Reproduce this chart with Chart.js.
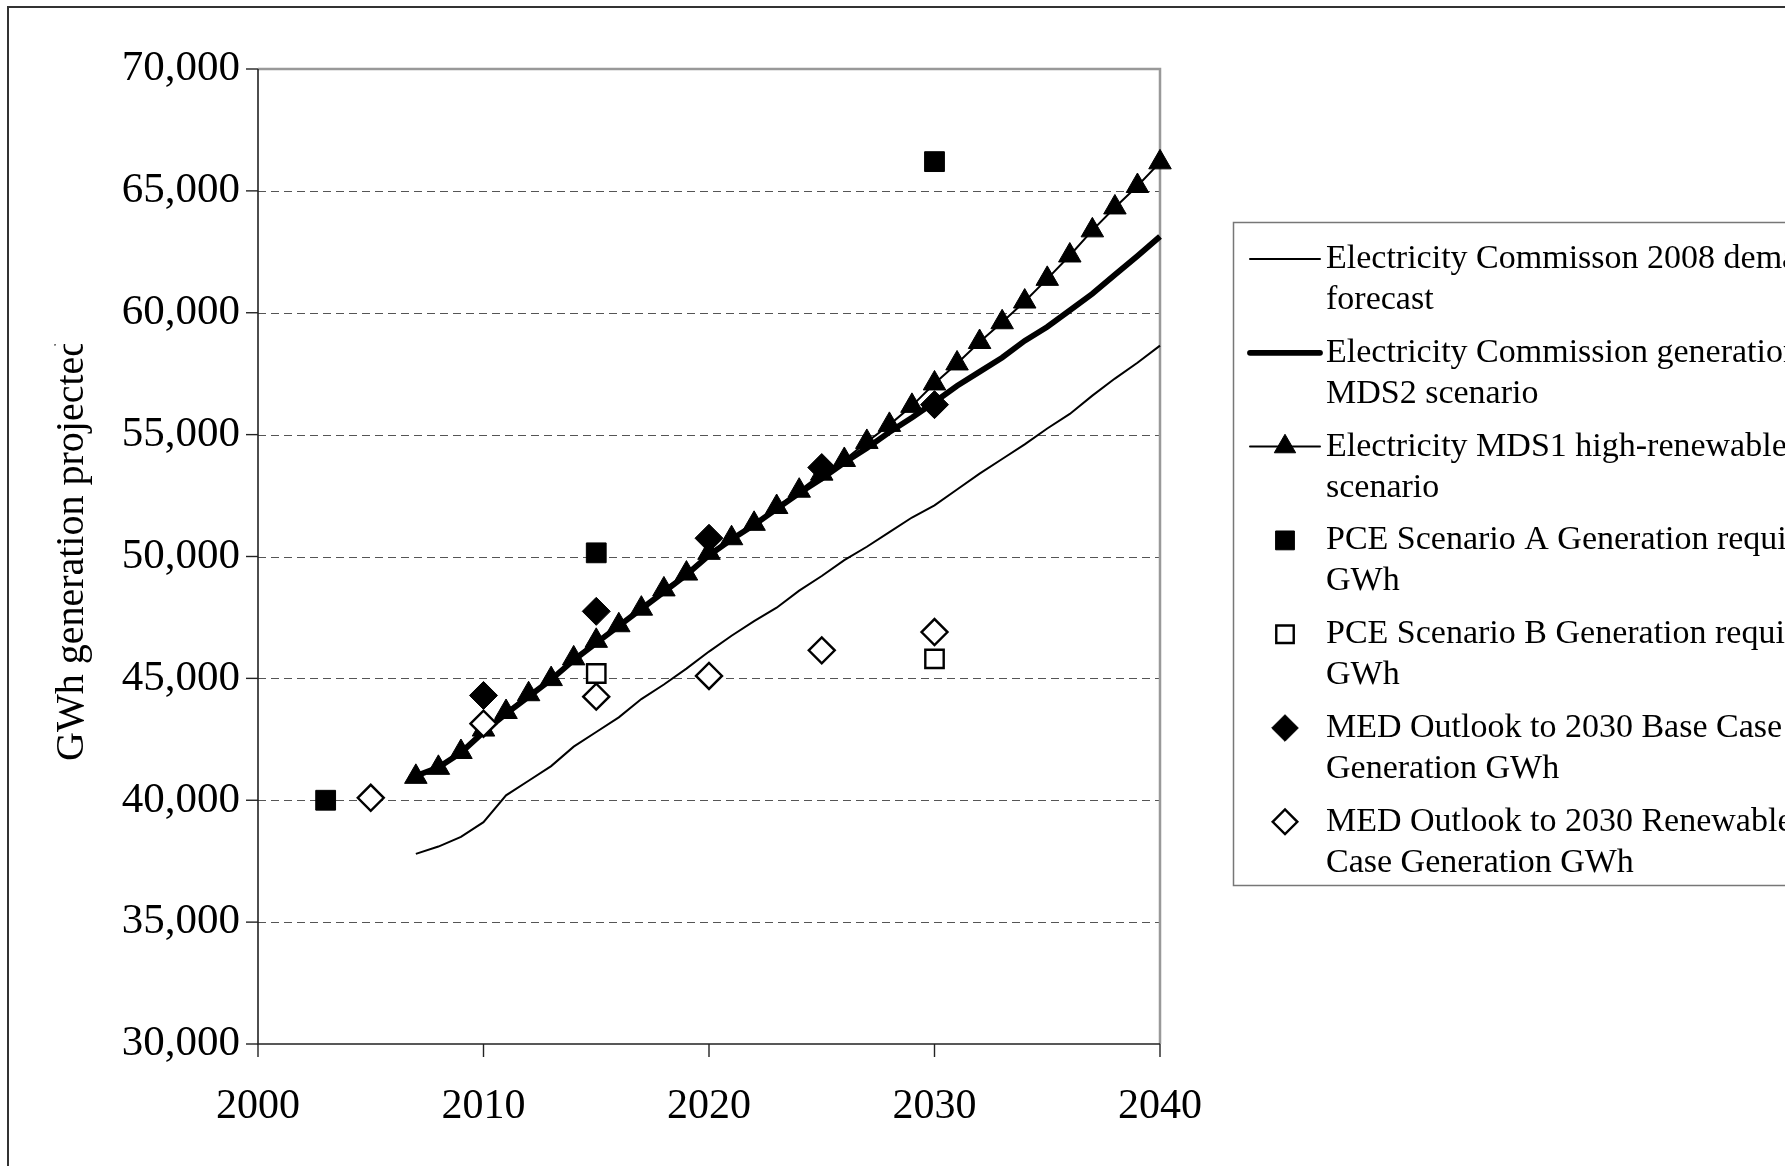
<!DOCTYPE html>
<html>
<head>
<meta charset="utf-8">
<script src="https://cdn.jsdelivr.net/npm/chart.js@4.4.1/dist/chart.umd.min.js"></script>
<style>
  html, body { margin: 0; padding: 0; background: #ffffff; }
  #wrap { width: 1785px; height: 1166px; position: relative; overflow: hidden; }
</style>
</head>
<body>
<div id="wrap"><canvas id="c" width="1785" height="1166"></canvas></div>
<script>
// ---- Projection years -------------------------------------------------------
const projectionYears = [2007, 2008, 2009, 2010, 2011, 2012, 2013, 2014, 2015, 2016,
  2017, 2018, 2019, 2020, 2021, 2022, 2023, 2024, 2025, 2026,
  2027, 2028, 2029, 2030, 2031, 2032, 2033, 2034, 2035, 2036,
  2037, 2038, 2039, 2040];

// Electricity Commisson 2008 demand forecast (GWh)
const demandForecast = [37800, 38100, 38500, 39100, 40200, 40800, 41400, 42200, 42800, 43400,
  44150, 44750, 45400, 46100, 46750, 47350, 47900, 48600, 49200, 49850,
  50400, 51000, 51600, 52100, 52750, 53400, 54000, 54600, 55250, 55850,
  56600, 57300, 57950, 58650];

// Electricity Commission generation, MDS2 scenario (GWh)
const mds2Generation = [41000, 41350, 41950, 42800, 43550, 44250, 44950, 45750, 46450, 47150,
  47850, 48550, 49250, 50050, 50700, 51300, 51950, 52600, 53200, 53850,
  54450, 55100, 55700, 56330, 57000, 57580, 58160, 58850, 59420, 60100,
  60780, 61560, 62330, 63130];

// Electricity MDS1 high-renewable scenario (GWh)
const mds1Generation = [40960, 41330, 41980, 42900, 43620, 44350, 44970, 45820, 46540, 47180,
  47860, 48650, 49300, 50150, 50750, 51340, 52030, 52700, 53400, 53960,
  54700, 55400, 56180, 57100, 57920, 58800, 59610, 60460, 61390, 62350,
  63380, 64320, 65200, 66170];

// PCE scenarios
const pceYears = [2003, 2015, 2030];
const pceScenarioA = [40000, 50150, 66200];
const pceBYears = [2015, 2030];
const pceScenarioB = [45200, 45800];

// MED Outlook to 2030
const medBaseYears = [2010, 2015, 2020, 2025, 2030];
const medBaseCase = [44300, 47750, 50750, 53650, 56230];
const medRenewYears = [2005, 2010, 2015, 2020, 2025, 2030];
const medRenewableCase = [40100, 43140, 44250, 45100, 46150, 46900];

// Axis ticks
const xTickValues = [2000, 2010, 2020, 2030, 2040];
const yTickValues = [30000, 35000, 40000, 45000, 50000, 55000, 60000, 65000, 70000];

const axisTitle = 'GWh generation projected';

// Legend text, one entry per series, wrapped as in the chart
const legendLines = [
  ['Electricity Commisson 2008 demand', 'forecast'],
  ['Electricity Commission generation', 'MDS2 scenario'],
  ['Electricity MDS1 high-renewable', 'scenario'],
  ['PCE Scenario A Generation required', 'GWh'],
  ['PCE Scenario B Generation required', 'GWh'],
  ['MED Outlook to 2030 Base Case', 'Generation GWh'],
  ['MED Outlook to 2030 Renewable', 'Case Generation GWh']
];

const pts = (xs, ys) => xs.map((x, i) => ({ x: x, y: ys[i] }));

const SERIF = '"Liberation Serif", "Times New Roman", serif';

const datasets = [
  { label: legendLines[0].join(' '), data: pts(projectionYears, demandForecast),
    borderColor: '#000', borderWidth: 2, pointRadius: 0, showLine: true, order: 7, clip: false },
  { label: legendLines[1].join(' '), data: pts(projectionYears, mds2Generation),
    borderColor: '#000', borderWidth: 5.8, pointRadius: 0, showLine: true, order: 6, clip: false },
  { label: legendLines[2].join(' '), data: pts(projectionYears, mds1Generation),
    borderColor: '#000', borderWidth: 2, showLine: true, order: 5, clip: false,
    pointStyle: 'triangle', pointRadius: 13, pointBackgroundColor: '#000', pointBorderColor: '#000', pointBorderWidth: 1 },
  { label: legendLines[3].join(' '), data: pts(pceYears, pceScenarioA),
    showLine: false, order: 4, clip: false,
    pointStyle: 'rect', pointRadius: 14, pointBackgroundColor: '#000', pointBorderColor: '#000', pointBorderWidth: 1 },
  { label: legendLines[4].join(' '), data: pts(pceBYears, pceScenarioB),
    showLine: false, order: 3, clip: false,
    pointStyle: 'rect', pointRadius: 13, pointBackgroundColor: '#fff', pointBorderColor: '#000', pointBorderWidth: 2.4 },
  { label: legendLines[5].join(' '), data: pts(medBaseYears, medBaseCase),
    showLine: false, order: 2, clip: false,
    pointStyle: 'rectRot', pointRadius: 14, pointBackgroundColor: '#000', pointBorderColor: '#000', pointBorderWidth: 1 },
  { label: legendLines[6].join(' '), data: pts(medRenewYears, medRenewableCase),
    showLine: false, order: 1, clip: false,
    pointStyle: 'rectRot', pointRadius: 13, pointBackgroundColor: '#fff', pointBorderColor: '#000', pointBorderWidth: 2.4 }
];

// Plot frame, dashed gridlines and outside tick marks
const framePlugin = {
  id: 'frame',
  beforeDatasetsDraw(chart) {
    const { ctx, chartArea: a, scales: { x, y } } = chart;
    ctx.save();
    // dashed horizontal gridlines
    ctx.strokeStyle = '#555';
    ctx.lineWidth = 1;
    ctx.setLineDash([8, 5]);
    yTickValues.forEach(v => {
      if (v === y.min || v === y.max) return;
      const py = Math.round(y.getPixelForValue(v)) + 0.5;
      ctx.beginPath(); ctx.moveTo(a.left, py); ctx.lineTo(a.right, py); ctx.stroke();
    });
    ctx.setLineDash([]);
    // grey top and right border of the plot area
    ctx.strokeStyle = '#999';
    ctx.lineWidth = 2.5;
    ctx.beginPath();
    ctx.moveTo(a.left, a.top); ctx.lineTo(a.right, a.top); ctx.lineTo(a.right, a.bottom);
    ctx.stroke();
    // dark axis lines
    ctx.strokeStyle = '#222';
    ctx.lineWidth = 1.6;
    ctx.beginPath();
    ctx.moveTo(a.left, a.top); ctx.lineTo(a.left, a.bottom); ctx.lineTo(a.right, a.bottom);
    ctx.stroke();
    // tick marks
    ctx.lineWidth = 1.4;
    yTickValues.forEach(v => {
      const py = y.getPixelForValue(v);
      ctx.beginPath(); ctx.moveTo(a.left - 12, py); ctx.lineTo(a.left, py); ctx.stroke();
    });
    xTickValues.forEach(v => {
      const px = x.getPixelForValue(v);
      ctx.beginPath(); ctx.moveTo(px, a.bottom); ctx.lineTo(px, a.bottom + 13); ctx.stroke();
    });
    ctx.restore();
  }
};

// Outer border, rotated axis title and the boxed legend
const decorPlugin = {
  id: 'decor',
  afterDraw(chart) {
    const ctx = chart.ctx;
    ctx.save();
    // outer chart border (open at the right and bottom edges)
    ctx.strokeStyle = '#333';
    ctx.lineWidth = 2;
    ctx.beginPath();
    ctx.moveTo(8, 1166); ctx.lineTo(8, 7); ctx.lineTo(1785, 7);
    ctx.stroke();

    // y axis title, clipped at its upper end
    ctx.save();
    ctx.beginPath();
    ctx.rect(0, 344, 200, 822);
    ctx.clip();
    ctx.translate(72, 761);
    ctx.rotate(-Math.PI / 2);
    ctx.fillStyle = '#000';
    ctx.font = '40px ' + SERIF;
    ctx.textAlign = 'left';
    ctx.textBaseline = 'middle';
    ctx.fillText(axisTitle, 0, 0);
    ctx.restore();

    // legend box
    const boxL = 1233, boxT = 222, boxB = 885;
    ctx.fillStyle = '#fff';
    ctx.fillRect(boxL, boxT, 1785 - boxL, boxB - boxT);
    ctx.strokeStyle = '#777';
    ctx.lineWidth = 1.5;
    ctx.strokeRect(boxL + 0.5, boxT + 0.5, 1785 - boxL + 20, boxB - boxT);

    const sampleL = 1250, sampleR = 1320, markX = 1285, textX = 1326;
    const firstRow = 259, entryStep = 93.8, lineStep = 41;
    ctx.font = '34px ' + SERIF;
    ctx.textBaseline = 'middle';
    ctx.textAlign = 'left';
    chart.data.datasets.forEach((ds, i) => {
      const yc = firstRow + i * entryStep;
      if (ds.showLine) {
        ctx.strokeStyle = ds.borderColor;
        ctx.lineWidth = ds.borderWidth;
        ctx.lineCap = 'round';
        ctx.beginPath(); ctx.moveTo(sampleL, yc); ctx.lineTo(sampleR, yc); ctx.stroke();
        ctx.lineCap = 'butt';
      }
      if (ds.pointRadius > 0) {
        ctx.fillStyle = ds.pointBackgroundColor;
        ctx.strokeStyle = ds.pointBorderColor;
        ctx.lineWidth = ds.pointBorderWidth;
        Chart.helpers.drawPoint(ctx, { pointStyle: ds.pointStyle, radius: ds.pointRadius * 0.95,
          rotation: 0, borderWidth: ds.pointBorderWidth }, markX, yc);
      }
      ctx.fillStyle = '#000';
      legendLines[i].forEach((t, k) => ctx.fillText(t, textX, yc + k * lineStep));
    });
    ctx.restore();
  }
};

new Chart(document.getElementById('c'), {
  type: 'scatter',
  data: { datasets: datasets },
  options: {
    responsive: false,
    animation: false,
    devicePixelRatio: 1,
    layout: { padding: { left: 0, top: 69, right: 625, bottom: 0 } },
    plugins: { legend: { display: false }, tooltip: { enabled: false } },
    elements: { line: { tension: 0 } },
    scales: {
      x: {
        type: 'linear', min: 2000, max: 2040,
        afterFit: s => { s.height = 1166 - 1044; },
        afterBuildTicks: s => { s.ticks = xTickValues.map(v => ({ value: v })); },
        grid: { display: false, drawTicks: false },
        border: { display: false },
        ticks: { color: '#000', padding: 38, maxRotation: 0, autoSkip: false,
          font: { family: SERIF, size: 42 }, callback: v => String(v) }
      },
      y: {
        type: 'linear', min: 30000, max: 70000,
        afterFit: s => { s.width = 258; },
        afterBuildTicks: s => { s.ticks = yTickValues.map(v => ({ value: v })); },
        grid: { display: false, drawTicks: false },
        border: { display: false },
        ticks: { color: '#000', padding: 18, autoSkip: false,
          font: { family: SERIF, size: 43 }, callback: v => v.toLocaleString('en-US') }
      }
    }
  },
  plugins: [framePlugin, decorPlugin]
});
</script>
</body>
</html>
